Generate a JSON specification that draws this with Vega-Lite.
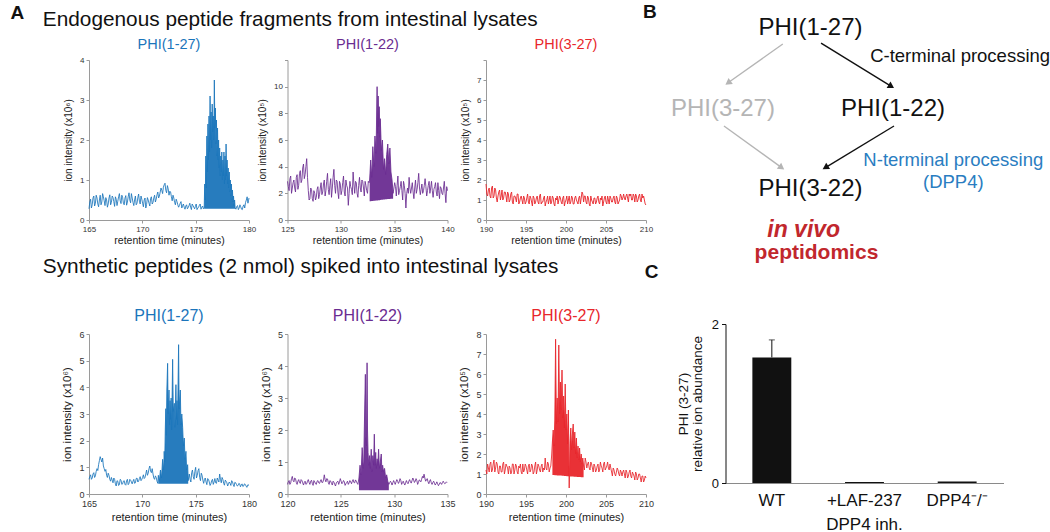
{
"$schema": "https://vega.github.io/schema/vega-lite/v6.json",
"padding": {"left": 10, "top": 2, "right": 0, "bottom": 4},
"columns": 4,
"bounds": "flush",
"spacing": {"row": 114, "column": 38.5},
"config": {
  "font": "Liberation Sans",
  "view": {"stroke": null},
  "axis": {"grid": false, "labelFont": "Liberation Sans", "titleFont": "Liberation Sans", "labelColor": "#333333", "titleColor": "#222222", "titleFontWeight": "normal", "domainColor": "#9a9a9a", "tickColor": "#9a9a9a", "tickSize": 3, "labelPadding": 2, "labelFlush": false, "labelOverlap": false},
  "title": {"font": "Liberation Sans", "fontWeight": "normal"},
  "text": {"font": "Liberation Sans"}
},
"datasets": {
"p1": [{"t":165.00,"v":0.28},{"t":165.15,"v":0.52},{"t":165.30,"v":0.38},{"t":165.45,"v":0.60},{"t":165.60,"v":0.42},{"t":165.75,"v":0.55},{"t":165.90,"v":0.33},{"t":166.05,"v":0.62},{"t":166.20,"v":0.45},{"t":166.35,"v":0.58},{"t":166.50,"v":0.36},{"t":166.65,"v":0.50},{"t":166.80,"v":0.40},{"t":166.95,"v":0.63},{"t":167.10,"v":0.44},{"t":167.25,"v":0.56},{"t":167.40,"v":0.34},{"t":167.55,"v":0.52},{"t":167.70,"v":0.47},{"t":167.85,"v":0.66},{"t":168.00,"v":0.41},{"t":168.15,"v":0.57},{"t":168.30,"v":0.38},{"t":168.45,"v":0.61},{"t":168.60,"v":0.45},{"t":168.75,"v":0.68},{"t":168.90,"v":0.43},{"t":169.05,"v":0.55},{"t":169.20,"v":0.36},{"t":169.35,"v":0.60},{"t":169.50,"v":0.42},{"t":169.65,"v":0.65},{"t":169.80,"v":0.40},{"t":169.95,"v":0.52},{"t":170.10,"v":0.33},{"t":170.25,"v":0.55},{"t":170.40,"v":0.39},{"t":170.55,"v":0.50},{"t":170.70,"v":0.35},{"t":170.85,"v":0.58},{"t":171.00,"v":0.44},{"t":171.15,"v":0.62},{"t":171.30,"v":0.52},{"t":171.45,"v":0.70},{"t":171.60,"v":0.60},{"t":171.75,"v":0.80},{"t":171.90,"v":0.66},{"t":172.05,"v":0.88},{"t":172.20,"v":0.74},{"t":172.35,"v":0.86},{"t":172.50,"v":0.62},{"t":172.65,"v":0.70},{"t":172.80,"v":0.48},{"t":172.95,"v":0.55},{"t":173.10,"v":0.38},{"t":173.25,"v":0.46},{"t":173.40,"v":0.32},{"t":173.55,"v":0.42},{"t":173.70,"v":0.30},{"t":173.85,"v":0.40},{"t":174.00,"v":0.27},{"t":174.15,"v":0.38},{"t":174.30,"v":0.31},{"t":174.45,"v":0.42},{"t":174.60,"v":0.26},{"t":174.75,"v":0.36},{"t":174.90,"v":0.28},{"t":175.05,"v":0.40},{"t":175.20,"v":0.30},{"t":175.35,"v":0.37},{"t":175.50,"v":0.27},{"t":175.65,"v":0.35},
{"t":175.80,"v":0.30,"lo":0.28},{"t":175.85,"v":0.9,"lo":0.28},{"t":175.90,"v":0.5,"lo":0.28},{"t":175.95,"v":1.6,"lo":0.28},{"t":176.00,"v":0.8,"lo":0.28},{"t":176.05,"v":2.1,"lo":0.28},{"t":176.10,"v":1.2,"lo":0.28},{"t":176.15,"v":2.4,"lo":0.28},{"t":176.20,"v":1.5,"lo":0.28},{"t":176.25,"v":2.6,"lo":0.28},{"t":176.30,"v":1.7,"lo":0.28},{"t":176.35,"v":3.1,"lo":0.28},{"t":176.40,"v":2.0,"lo":0.28},{"t":176.45,"v":2.7,"lo":0.28},{"t":176.50,"v":1.8,"lo":0.28},{"t":176.55,"v":2.9,"lo":0.28},{"t":176.60,"v":2.2,"lo":0.28},{"t":176.65,"v":2.6,"lo":0.28},{"t":176.70,"v":2.0,"lo":0.28},{"t":176.75,"v":3.5,"lo":0.28},{"t":176.80,"v":2.3,"lo":0.28},{"t":176.85,"v":2.8,"lo":0.28},{"t":176.90,"v":1.9,"lo":0.28},{"t":176.95,"v":2.5,"lo":0.28},{"t":177.00,"v":1.6,"lo":0.28},{"t":177.05,"v":2.3,"lo":0.28},{"t":177.10,"v":1.5,"lo":0.28},{"t":177.15,"v":2.0,"lo":0.28},{"t":177.20,"v":1.3,"lo":0.28},{"t":177.25,"v":1.8,"lo":0.28},{"t":177.30,"v":1.1,"lo":0.28},{"t":177.35,"v":1.6,"lo":0.28},{"t":177.40,"v":1.2,"lo":0.28},{"t":177.45,"v":1.7,"lo":0.28},{"t":177.50,"v":1.0,"lo":0.28},{"t":177.55,"v":1.5,"lo":0.28},{"t":177.60,"v":1.1,"lo":0.28},{"t":177.65,"v":1.7,"lo":0.28},{"t":177.70,"v":0.9,"lo":0.28},{"t":177.75,"v":1.6,"lo":0.28},{"t":177.80,"v":1.0,"lo":0.28},{"t":177.85,"v":1.9,"lo":0.28},{"t":177.90,"v":1.1,"lo":0.28},{"t":177.95,"v":1.5,"lo":0.28},{"t":178.00,"v":0.9,"lo":0.28},{"t":178.05,"v":1.3,"lo":0.28},{"t":178.10,"v":0.8,"lo":0.28},{"t":178.15,"v":1.2,"lo":0.28},{"t":178.20,"v":0.7,"lo":0.28},{"t":178.25,"v":1.0,"lo":0.28},{"t":178.30,"v":0.6,"lo":0.28},{"t":178.35,"v":0.9,"lo":0.28},{"t":178.40,"v":0.5,"lo":0.28},{"t":178.45,"v":0.75,"lo":0.28},{"t":178.50,"v":0.45,"lo":0.28},{"t":178.55,"v":0.6,"lo":0.28},{"t":178.60,"v":0.35,"lo":0.28},{"t":178.65,"v":0.5,"lo":0.28},{"t":178.70,"v":0.3,"lo":0.28},
{"t":178.85,"v":0.34},{"t":179.00,"v":0.26},{"t":179.15,"v":0.38},{"t":179.30,"v":0.27},{"t":179.45,"v":0.35},{"t":179.60,"v":0.30},{"t":179.75,"v":0.50},{"t":179.90,"v":0.42},{"t":180.00,"v":0.55},
{"t":165.075,"v":0.45},{"t":165.225,"v":0.30},{"t":165.375,"v":0.55},{"t":165.525,"v":0.35},{"t":165.675,"v":0.62},{"t":165.825,"v":0.40},{"t":165.975,"v":0.50},{"t":166.125,"v":0.38},{"t":166.275,"v":0.66},{"t":166.425,"v":0.48},{"t":166.575,"v":0.56},{"t":166.725,"v":0.32},{"t":166.875,"v":0.55},{"t":167.025,"v":0.38},{"t":167.175,"v":0.60},{"t":167.325,"v":0.46},{"t":167.475,"v":0.58},{"t":167.625,"v":0.36},{"t":167.775,"v":0.58},{"t":167.925,"v":0.48},{"t":168.075,"v":0.62},{"t":168.225,"v":0.42},{"t":168.375,"v":0.55},{"t":168.525,"v":0.37},{"t":168.675,"v":0.58},{"t":168.825,"v":0.50},{"t":168.975,"v":0.66},{"t":169.125,"v":0.44},{"t":169.275,"v":0.50},{"t":169.425,"v":0.38},{"t":169.575,"v":0.55},{"t":169.725,"v":0.47},{"t":169.875,"v":0.60},{"t":170.025,"v":0.42},{"t":170.175,"v":0.50},{"t":170.325,"v":0.30},{"t":170.475,"v":0.56},{"t":170.625,"v":0.42},{"t":170.775,"v":0.54},{"t":170.925,"v":0.40},{"t":171.075,"v":0.55},{"t":171.225,"v":0.45},{"t":171.375,"v":0.63},{"t":171.525,"v":0.55},{"t":171.675,"v":0.70},{"t":171.825,"v":0.74},{"t":171.975,"v":0.82},{"t":172.125,"v":0.92},{"t":172.275,"v":0.68},{"t":172.425,"v":0.78},{"t":172.575,"v":0.72},{"t":172.725,"v":0.58},{"t":172.875,"v":0.62},{"t":173.025,"v":0.44},{"t":173.175,"v":0.52},{"t":173.325,"v":0.38},{"t":173.475,"v":0.36},{"t":173.625,"v":0.46},{"t":173.775,"v":0.36},{"t":173.925,"v":0.32},{"t":174.075,"v":0.35},{"t":174.225,"v":0.28},{"t":174.375,"v":0.36},{"t":174.525,"v":0.32},{"t":174.675,"v":0.40},{"t":174.825,"v":0.32},{"t":174.975,"v":0.34},{"t":175.125,"v":0.26},{"t":175.275,"v":0.32},{"t":175.425,"v":0.40},{"t":175.575,"v":0.32},{"t":175.725,"v":0.28},{"t":178.775,"v":0.27},{"t":178.925,"v":0.36},{"t":179.075,"v":0.30},{"t":179.225,"v":0.33},{"t":179.375,"v":0.26},{"t":179.525,"v":0.38},{"t":179.675,"v":0.44},{"t":179.825,"v":0.58},{"t":179.95,"v":0.48}],
"p2": [{"t":125.00,"v":2.9},{"t":125.15,"v":2.2},{"t":125.30,"v":3.3},{"t":125.45,"v":2.4},{"t":125.60,"v":3.0},{"t":125.75,"v":2.1},{"t":125.90,"v":3.4},{"t":126.05,"v":2.6},{"t":126.20,"v":3.7},{"t":126.35,"v":3.0},{"t":126.50,"v":4.2},{"t":126.65,"v":3.4},{"t":126.80,"v":4.6},{"t":126.95,"v":2.2},{"t":127.10,"v":1.6},{"t":127.25,"v":2.3},{"t":127.40,"v":1.4},{"t":127.55,"v":2.0},{"t":127.70,"v":1.7},{"t":127.85,"v":2.5},{"t":128.00,"v":1.9},{"t":128.15,"v":2.8},{"t":128.30,"v":2.1},{"t":128.45,"v":3.0},{"t":128.60,"v":2.2},{"t":128.75,"v":3.5},{"t":128.90,"v":1.9},{"t":129.05,"v":3.1},{"t":129.20,"v":2.4},{"t":129.35,"v":3.8},{"t":129.50,"v":2.0},{"t":129.65,"v":2.9},{"t":129.80,"v":1.6},{"t":129.95,"v":2.7},{"t":130.10,"v":2.2},{"t":130.25,"v":3.3},{"t":130.40,"v":1.8},{"t":130.55,"v":2.6},{"t":130.70,"v":1.1},{"t":130.85,"v":2.9},{"t":131.00,"v":2.3},{"t":131.15,"v":3.6},{"t":131.30,"v":2.0},{"t":131.45,"v":2.8},{"t":131.60,"v":1.7},{"t":131.75,"v":3.2},{"t":131.90,"v":2.1},{"t":132.05,"v":2.9},{"t":132.20,"v":1.8},{"t":132.35,"v":2.6},{"t":132.50,"v":2.0},{"t":132.65,"v":2.8},
{"t":132.70,"v":3.0,"lo":1.40},{"t":132.80,"v":4.5,"lo":1.41},{"t":132.90,"v":3.2,"lo":1.42},{"t":133.00,"v":5.5,"lo":1.43},{"t":133.10,"v":4.0,"lo":1.44},{"t":133.20,"v":6.3,"lo":1.45},{"t":133.30,"v":5.0,"lo":1.46},{"t":133.40,"v":10.0,"lo":1.47},{"t":133.45,"v":6.5,"lo":1.47},{"t":133.50,"v":9.3,"lo":1.48},{"t":133.55,"v":7.0,"lo":1.48},{"t":133.60,"v":8.5,"lo":1.49},{"t":133.65,"v":6.2,"lo":1.49},{"t":133.70,"v":7.6,"lo":1.50},{"t":133.80,"v":5.2,"lo":1.51},{"t":133.90,"v":6.0,"lo":1.52},{"t":134.00,"v":3.8,"lo":1.53},{"t":134.10,"v":4.6,"lo":1.54},{"t":134.20,"v":3.4,"lo":1.55},{"t":134.30,"v":4.9,"lo":1.56},{"t":134.40,"v":5.7,"lo":1.57},{"t":134.50,"v":4.2,"lo":1.58},{"t":134.60,"v":5.4,"lo":1.58},{"t":134.70,"v":3.6,"lo":1.59},{"t":134.80,"v":3.0,"lo":1.60},{"t":134.90,"v":2.0,"lo":1.60},
{"t":135.05,"v":2.8},{"t":135.20,"v":1.8},{"t":135.35,"v":3.3},{"t":135.50,"v":2.2},{"t":135.65,"v":2.9},{"t":135.80,"v":1.5},{"t":135.95,"v":2.6},{"t":136.10,"v":0.9},{"t":136.25,"v":2.4},{"t":136.40,"v":3.2},{"t":136.55,"v":2.0},{"t":136.70,"v":2.8},{"t":136.85,"v":1.6},{"t":137.00,"v":3.0},{"t":137.15,"v":2.3},{"t":137.30,"v":3.5},{"t":137.45,"v":1.9},{"t":137.60,"v":2.7},{"t":137.75,"v":2.2},{"t":137.90,"v":3.1},{"t":138.05,"v":1.8},{"t":138.20,"v":2.6},{"t":138.35,"v":2.0},{"t":138.50,"v":2.9},{"t":138.65,"v":1.7},{"t":138.80,"v":2.5},{"t":138.95,"v":2.1},{"t":139.10,"v":2.8},{"t":139.25,"v":1.6},{"t":139.40,"v":2.4},{"t":139.55,"v":1.9},{"t":139.70,"v":2.9},{"t":139.85,"v":1.3},{"t":140.00,"v":2.2},
{"t":125.075,"v":2.5},{"t":125.225,"v":3.1},{"t":125.375,"v":2.0},{"t":125.525,"v":2.8},{"t":125.675,"v":2.4},{"t":125.825,"v":3.2},{"t":125.975,"v":2.3},{"t":126.125,"v":3.5},{"t":126.275,"v":2.8},{"t":126.425,"v":3.9},{"t":126.575,"v":3.1},{"t":126.725,"v":4.0},{"t":126.875,"v":3.2},{"t":127.025,"v":1.5},{"t":127.175,"v":2.4},{"t":127.325,"v":1.6},{"t":127.475,"v":2.2},{"t":127.625,"v":1.5},{"t":127.775,"v":2.3},{"t":127.925,"v":1.6},{"t":128.075,"v":2.4},{"t":128.225,"v":1.9},{"t":128.375,"v":2.7},{"t":128.525,"v":1.8},{"t":128.675,"v":2.9},{"t":128.825,"v":2.3},{"t":128.975,"v":2.6},{"t":129.125,"v":1.7},{"t":129.275,"v":3.2},{"t":129.425,"v":2.6},{"t":129.575,"v":3.0},{"t":129.725,"v":2.1},{"t":129.875,"v":2.9},{"t":130.025,"v":1.9},{"t":130.175,"v":2.8},{"t":130.325,"v":2.1},{"t":130.475,"v":3.0},{"t":130.625,"v":2.4},{"t":130.775,"v":2.0},{"t":130.925,"v":2.5},{"t":131.075,"v":1.9},{"t":131.225,"v":2.7},{"t":131.375,"v":2.9},{"t":131.525,"v":2.0},{"t":131.675,"v":2.6},{"t":131.825,"v":2.4},{"t":131.975,"v":3.0},{"t":132.125,"v":2.4},{"t":132.275,"v":2.9},{"t":132.425,"v":2.2},{"t":132.575,"v":2.9},{"t":134.975,"v":2.4},{"t":135.125,"v":2.5},{"t":135.275,"v":2.6},{"t":135.425,"v":1.9},{"t":135.575,"v":2.5},{"t":135.725,"v":2.2},{"t":135.875,"v":2.9},{"t":136.025,"v":2.0},{"t":136.175,"v":2.0},{"t":136.325,"v":2.0},{"t":136.475,"v":2.4},{"t":136.625,"v":2.4},{"t":136.775,"v":2.1},{"t":136.925,"v":2.4},{"t":137.075,"v":2.0},{"t":137.225,"v":2.8},{"t":137.375,"v":2.4},{"t":137.525,"v":2.3},{"t":137.675,"v":2.0},{"t":137.825,"v":2.6},{"t":137.975,"v":2.5},{"t":138.125,"v":2.2},{"t":138.275,"v":2.9},{"t":138.425,"v":2.4},{"t":138.575,"v":2.2},{"t":138.725,"v":2.3},{"t":138.875,"v":2.8},{"t":139.025,"v":1.8},{"t":139.175,"v":2.2},{"t":139.325,"v":2.5},{"t":139.475,"v":2.0},{"t":139.625,"v":2.4},{"t":139.775,"v":2.0},{"t":139.925,"v":2.5}],
"p3": [{"t":190.0,"v":1.8},{"t":190.2,"v":1.2},{"t":190.4,"v":1.6},{"t":190.6,"v":1.1},{"t":190.8,"v":1.7},{"t":191.0,"v":1.2},{"t":191.2,"v":1.5},{"t":191.4,"v":0.9},{"t":191.6,"v":1.4},{"t":191.8,"v":1.0},{"t":192.0,"v":1.5},{"t":192.2,"v":1.1},{"t":192.4,"v":1.4},{"t":192.6,"v":0.9},{"t":192.8,"v":1.3},{"t":193.0,"v":1.0},{"t":193.2,"v":1.4},{"t":193.4,"v":0.8},{"t":193.6,"v":1.2},{"t":193.8,"v":0.9},{"t":194.0,"v":1.3},{"t":194.2,"v":0.9},{"t":194.4,"v":1.2},{"t":194.6,"v":0.8},{"t":194.8,"v":1.1},{"t":195.0,"v":0.9},{"t":195.2,"v":1.3},{"t":195.4,"v":0.8},{"t":195.6,"v":1.1},{"t":195.8,"v":0.7},{"t":196.0,"v":1.1},{"t":196.2,"v":0.9},{"t":196.4,"v":1.2},{"t":196.6,"v":0.8},{"t":196.8,"v":1.3},{"t":197.0,"v":0.9},{"t":197.2,"v":1.1},{"t":197.4,"v":0.7},{"t":197.6,"v":1.0},{"t":197.8,"v":0.8},{"t":198.0,"v":1.2},{"t":198.2,"v":0.9},{"t":198.4,"v":1.1},{"t":198.6,"v":0.7},{"t":198.8,"v":1.0},{"t":199.0,"v":0.8},{"t":199.2,"v":1.2},{"t":199.4,"v":0.9},{"t":199.6,"v":1.1},{"t":199.8,"v":0.7},{"t":200.0,"v":1.0},{"t":200.2,"v":0.8},{"t":200.4,"v":1.2},{"t":200.6,"v":0.9},{"t":200.8,"v":1.1},{"t":201.0,"v":0.8},{"t":201.2,"v":1.2},{"t":201.4,"v":0.9},{"t":201.6,"v":1.1},{"t":201.8,"v":0.8},{"t":202.0,"v":1.4},{"t":202.2,"v":0.9},{"t":202.4,"v":1.2},{"t":202.6,"v":0.8},{"t":202.8,"v":1.1},{"t":203.0,"v":0.7},{"t":203.2,"v":1.0},{"t":203.4,"v":0.8},{"t":203.6,"v":1.1},{"t":203.8,"v":0.9},{"t":204.0,"v":1.2},{"t":204.2,"v":0.8},{"t":204.4,"v":1.0},{"t":204.6,"v":0.7},{"t":204.8,"v":1.1},{"t":205.0,"v":0.9},{"t":205.2,"v":1.2},{"t":205.4,"v":0.8},{"t":205.6,"v":1.1},{"t":205.8,"v":0.9},{"t":206.0,"v":1.2},{"t":206.2,"v":0.8},{"t":206.4,"v":1.1},{"t":206.6,"v":0.9},{"t":206.8,"v":1.3},{"t":207.0,"v":1.0},{"t":207.2,"v":1.3},{"t":207.4,"v":1.0},{"t":207.6,"v":1.3},{"t":207.8,"v":0.9},{"t":208.0,"v":1.2},{"t":208.2,"v":1.0},{"t":208.4,"v":1.3},{"t":208.6,"v":0.9},{"t":208.8,"v":1.2},{"t":209.0,"v":1.0},{"t":209.2,"v":1.3},{"t":209.4,"v":0.9},{"t":209.6,"v":1.1},{"t":209.8,"v":1.0},{"t":210.0,"v":0.75},
{"t":190.1,"v":1.3},{"t":190.3,"v":1.5},{"t":190.5,"v":1.2},{"t":190.7,"v":1.6},{"t":190.9,"v":1.1},{"t":191.1,"v":1.6},{"t":191.3,"v":1.1},{"t":191.5,"v":1.2},{"t":191.7,"v":1.5},{"t":191.9,"v":1.2},{"t":192.1,"v":1.0},{"t":192.3,"v":1.4},{"t":192.5,"v":1.2},{"t":192.7,"v":1.4},{"t":192.9,"v":0.9},{"t":193.1,"v":1.3},{"t":193.3,"v":0.9},{"t":193.5,"v":1.2},{"t":193.7,"v":1.1},{"t":193.9,"v":1.3},{"t":194.1,"v":0.8},{"t":194.3,"v":1.1},{"t":194.5,"v":1.0},{"t":194.7,"v":1.2},{"t":194.9,"v":0.8},{"t":195.1,"v":1.1},{"t":195.3,"v":0.9},{"t":195.5,"v":1.2},{"t":195.7,"v":0.9},{"t":195.9,"v":1.2},{"t":196.1,"v":0.8},{"t":196.3,"v":1.1},{"t":196.5,"v":0.9},{"t":196.7,"v":1.2},{"t":196.9,"v":0.8},{"t":197.1,"v":0.9},{"t":197.3,"v":1.2},{"t":197.5,"v":0.9},{"t":197.7,"v":1.2},{"t":197.9,"v":1.0},{"t":198.1,"v":0.8},{"t":198.3,"v":1.2},{"t":198.5,"v":0.8},{"t":198.7,"v":1.1},{"t":198.9,"v":1.2},{"t":199.1,"v":1.0},{"t":199.3,"v":1.1},{"t":199.5,"v":0.8},{"t":199.7,"v":1.2},{"t":199.9,"v":0.9},{"t":200.1,"v":1.2},{"t":200.3,"v":1.0},{"t":200.5,"v":0.8},{"t":200.7,"v":1.2},{"t":200.9,"v":0.8},{"t":201.1,"v":1.1},{"t":201.3,"v":1.0},{"t":201.5,"v":0.8},{"t":201.7,"v":1.2},{"t":201.9,"v":1.1},{"t":202.1,"v":1.3},{"t":202.3,"v":1.2},{"t":202.5,"v":0.9},{"t":202.7,"v":1.2},{"t":202.9,"v":0.8},{"t":203.1,"v":1.2},{"t":203.3,"v":0.9},{"t":203.5,"v":1.1},{"t":203.7,"v":0.8},{"t":203.9,"v":1.1},{"t":204.1,"v":0.9},{"t":204.3,"v":1.1},{"t":204.5,"v":1.2},{"t":204.7,"v":0.9},{"t":204.9,"v":1.2},{"t":205.1,"v":0.8},{"t":205.3,"v":1.0},{"t":205.5,"v":1.2},{"t":205.7,"v":0.9},{"t":205.9,"v":1.1},{"t":206.1,"v":0.9},{"t":206.3,"v":1.2},{"t":206.5,"v":0.8},{"t":206.7,"v":1.0},{"t":206.9,"v":1.2},{"t":207.1,"v":1.1},{"t":207.3,"v":1.1},{"t":207.5,"v":1.2},{"t":207.7,"v":1.1},{"t":207.9,"v":1.3},{"t":208.1,"v":1.3},{"t":208.3,"v":1.0},{"t":208.5,"v":1.2},{"t":208.7,"v":1.3},{"t":208.9,"v":0.9},{"t":209.1,"v":1.2},{"t":209.3,"v":1.0},{"t":209.5,"v":1.3},{"t":209.7,"v":1.2},{"t":209.9,"v":0.8}],
"p4": [{"t":165.00,"v":0.55},{"t":165.15,"v":0.72},{"t":165.30,"v":0.60},{"t":165.45,"v":0.80},{"t":165.60,"v":0.68},{"t":165.75,"v":0.95},{"t":165.90,"v":1.10},{"t":166.05,"v":1.40},{"t":166.20,"v":1.20},{"t":166.35,"v":1.05},{"t":166.50,"v":0.85},{"t":166.65,"v":0.70},{"t":166.80,"v":0.78},{"t":166.95,"v":0.55},{"t":167.10,"v":0.62},{"t":167.25,"v":0.42},{"t":167.40,"v":0.55},{"t":167.55,"v":0.30},{"t":167.70,"v":0.48},{"t":167.85,"v":0.35},{"t":168.00,"v":0.52},{"t":168.15,"v":0.38},{"t":168.30,"v":0.50},{"t":168.45,"v":0.33},{"t":168.60,"v":0.55},{"t":168.75,"v":0.40},{"t":168.90,"v":0.52},{"t":169.05,"v":0.38},{"t":169.20,"v":0.55},{"t":169.35,"v":0.42},{"t":169.50,"v":0.60},{"t":169.65,"v":0.48},{"t":169.80,"v":0.65},{"t":169.95,"v":0.55},{"t":170.10,"v":0.72},{"t":170.25,"v":0.62},{"t":170.40,"v":0.90},{"t":170.55,"v":0.78},{"t":170.70,"v":1.05},{"t":170.85,"v":0.80},{"t":171.00,"v":0.75},{"t":171.15,"v":0.55},{"t":171.30,"v":0.62},{"t":171.45,"v":0.40},
{"t":171.50,"v":0.7,"lo":0.38},{"t":171.60,"v":0.5,"lo":0.38},{"t":171.70,"v":0.9,"lo":0.38},{"t":171.80,"v":0.6,"lo":0.38},{"t":171.90,"v":1.3,"lo":0.38},{"t":172.00,"v":0.9,"lo":0.38},{"t":172.05,"v":1.6,"lo":0.38},{"t":172.10,"v":1.2,"lo":0.38},{"t":172.15,"v":2.4,"lo":0.38},{"t":172.20,"v":3.2,"lo":0.38},{"t":172.25,"v":2.2,"lo":0.38},{"t":172.30,"v":3.9,"lo":0.38},{"t":172.37,"v":4.9,"lo":0.38},{"t":172.42,"v":3.0,"lo":0.38},{"t":172.50,"v":3.9,"lo":0.38},{"t":172.55,"v":2.6,"lo":0.38},{"t":172.60,"v":3.5,"lo":0.38},{"t":172.65,"v":2.8,"lo":0.38},{"t":172.70,"v":3.6,"lo":0.38},{"t":172.75,"v":2.4,"lo":0.38},{"t":172.84,"v":5.05,"lo":0.38},{"t":172.90,"v":3.1,"lo":0.38},{"t":173.00,"v":3.4,"lo":0.38},{"t":173.05,"v":2.5,"lo":0.38},{"t":173.15,"v":4.1,"lo":0.38},{"t":173.20,"v":2.8,"lo":0.38},{"t":173.25,"v":3.5,"lo":0.38},{"t":173.30,"v":2.6,"lo":0.38},{"t":173.40,"v":5.6,"lo":0.38},{"t":173.45,"v":3.2,"lo":0.38},{"t":173.56,"v":3.9,"lo":0.38},{"t":173.62,"v":2.6,"lo":0.38},{"t":173.70,"v":3.0,"lo":0.38},{"t":173.78,"v":2.5,"lo":0.38},{"t":173.85,"v":1.8,"lo":0.38},{"t":173.93,"v":2.1,"lo":0.38},{"t":174.00,"v":1.3,"lo":0.38},{"t":174.09,"v":1.6,"lo":0.38},{"t":174.15,"v":0.9,"lo":0.38},{"t":174.25,"v":1.1,"lo":0.38},{"t":174.30,"v":0.5,"lo":0.38},
{"t":174.40,"v":0.75},{"t":174.55,"v":0.45},{"t":174.70,"v":0.90},{"t":174.85,"v":0.55},{"t":175.00,"v":1.00},{"t":175.15,"v":0.70},{"t":175.30,"v":0.95},{"t":175.45,"v":0.50},{"t":175.60,"v":0.70},{"t":175.75,"v":0.40},{"t":175.90,"v":0.60},{"t":176.05,"v":0.35},{"t":176.20,"v":0.55},{"t":176.35,"v":0.32},{"t":176.50,"v":0.50},{"t":176.65,"v":0.36},{"t":176.80,"v":0.58},{"t":176.95,"v":0.40},{"t":177.10,"v":0.52},{"t":177.25,"v":0.75},{"t":177.40,"v":0.42},{"t":177.55,"v":0.55},{"t":177.70,"v":0.33},{"t":177.85,"v":0.48},{"t":178.00,"v":0.30},{"t":178.15,"v":0.45},{"t":178.30,"v":0.32},{"t":178.45,"v":0.46},{"t":178.60,"v":0.28},{"t":178.75,"v":0.42},{"t":178.90,"v":0.30},{"t":179.05,"v":0.40},{"t":179.20,"v":0.27},{"t":179.35,"v":0.38},{"t":179.50,"v":0.30},{"t":179.65,"v":0.36},{"t":179.80,"v":0.25},{"t":180.00,"v":0.32},
{"t":165.075,"v":0.65},{"t":165.225,"v":0.55},{"t":165.375,"v":0.75},{"t":165.525,"v":0.62},{"t":165.675,"v":0.85},{"t":165.825,"v":0.88},{"t":165.975,"v":1.25},{"t":166.125,"v":1.30},{"t":166.275,"v":1.35},{"t":166.425,"v":0.95},{"t":166.575,"v":0.92},{"t":166.725,"v":0.62},{"t":166.875,"v":0.70},{"t":167.025,"v":0.48},{"t":167.175,"v":0.52},{"t":167.325,"v":0.60},{"t":167.475,"v":0.38},{"t":167.625,"v":0.50},{"t":167.775,"v":0.32},{"t":167.925,"v":0.55},{"t":168.075,"v":0.36},{"t":168.225,"v":0.48},{"t":168.375,"v":0.36},{"t":168.525,"v":0.50},{"t":168.675,"v":0.35},{"t":168.825,"v":0.55},{"t":168.975,"v":0.45},{"t":169.125,"v":0.48},{"t":169.275,"v":0.40},{"t":169.425,"v":0.58},{"t":169.575,"v":0.45},{"t":169.725,"v":0.58},{"t":169.875,"v":0.50},{"t":170.025,"v":0.62},{"t":170.175,"v":0.58},{"t":170.325,"v":0.75},{"t":170.475,"v":0.70},{"t":170.625,"v":0.95},{"t":170.775,"v":0.85},{"t":170.925,"v":0.95},{"t":171.075,"v":0.60},{"t":171.225,"v":0.68},{"t":171.375,"v":0.48},{"t":174.475,"v":0.55},{"t":174.625,"v":0.80},{"t":174.775,"v":0.65},{"t":174.925,"v":0.85},{"t":175.075,"v":0.60},{"t":175.225,"v":0.88},{"t":175.375,"v":0.62},{"t":175.525,"v":0.78},{"t":175.675,"v":0.52},{"t":175.825,"v":0.55},{"t":175.975,"v":0.45},{"t":176.125,"v":0.58},{"t":176.275,"v":0.45},{"t":176.425,"v":0.38},{"t":176.575,"v":0.55},{"t":176.725,"v":0.45},{"t":176.875,"v":0.42},{"t":177.025,"v":0.60},{"t":177.175,"v":0.45},{"t":177.325,"v":0.55},{"t":177.475,"v":0.62},{"t":177.625,"v":0.40},{"t":177.775,"v":0.52},{"t":177.925,"v":0.42},{"t":178.075,"v":0.38},{"t":178.225,"v":0.40},{"t":178.375,"v":0.50},{"t":178.525,"v":0.35},{"t":178.675,"v":0.44},{"t":178.825,"v":0.36},{"t":178.975,"v":0.32},{"t":179.125,"v":0.38},{"t":179.275,"v":0.34},{"t":179.425,"v":0.28},{"t":179.575,"v":0.38},{"t":179.725,"v":0.30},{"t":179.9,"v":0.35}],
"p5": [{"t":120.00,"v":0.30},{"t":120.15,"v":0.42},{"t":120.30,"v":0.35},{"t":120.45,"v":0.55},{"t":120.60,"v":0.38},{"t":120.75,"v":0.48},{"t":120.90,"v":0.30},{"t":121.05,"v":0.45},{"t":121.20,"v":0.33},{"t":121.35,"v":0.42},{"t":121.50,"v":0.28},{"t":121.65,"v":0.40},{"t":121.80,"v":0.32},{"t":121.95,"v":0.45},{"t":122.10,"v":0.30},{"t":122.25,"v":0.43},{"t":122.40,"v":0.27},{"t":122.55,"v":0.38},{"t":122.70,"v":0.30},{"t":122.85,"v":0.42},{"t":123.00,"v":0.33},{"t":123.15,"v":0.45},{"t":123.30,"v":0.36},{"t":123.45,"v":0.60},{"t":123.60,"v":0.38},{"t":123.75,"v":0.47},{"t":123.90,"v":0.30},{"t":124.05,"v":0.40},{"t":124.20,"v":0.28},{"t":124.35,"v":0.37},{"t":124.50,"v":0.25},{"t":124.65,"v":0.38},{"t":124.80,"v":0.30},{"t":124.95,"v":0.48},{"t":125.10,"v":0.32},{"t":125.25,"v":0.42},{"t":125.40,"v":0.27},{"t":125.55,"v":0.36},{"t":125.70,"v":0.30},{"t":125.85,"v":0.42},{"t":126.00,"v":0.32},{"t":126.15,"v":0.45},{"t":126.30,"v":0.35},{"t":126.45,"v":0.40},{"t":126.60,"v":0.30},
{"t":126.70,"v":0.5,"lo":0.12},{"t":126.80,"v":0.9,"lo":0.12},{"t":126.90,"v":0.6,"lo":0.12},{"t":127.00,"v":1.45,"lo":0.12},{"t":127.10,"v":0.8,"lo":0.12},{"t":127.15,"v":1.0,"lo":0.12},{"t":127.20,"v":2.0,"lo":0.12},{"t":127.30,"v":3.74,"lo":0.12},{"t":127.35,"v":1.8,"lo":0.12},{"t":127.40,"v":1.5,"lo":0.12},{"t":127.46,"v":4.1,"lo":0.12},{"t":127.50,"v":2.0,"lo":0.12},{"t":127.55,"v":1.3,"lo":0.12},{"t":127.62,"v":0.9,"lo":0.12},{"t":127.70,"v":1.2,"lo":0.12},{"t":127.76,"v":0.8,"lo":0.12},{"t":127.85,"v":1.4,"lo":0.12},{"t":127.92,"v":0.7,"lo":0.12},{"t":128.00,"v":1.2,"lo":0.12},{"t":128.07,"v":0.9,"lo":0.12},{"t":128.14,"v":1.87,"lo":0.12},{"t":128.20,"v":0.9,"lo":0.12},{"t":128.27,"v":1.3,"lo":0.12},{"t":128.33,"v":0.8,"lo":0.12},{"t":128.40,"v":1.1,"lo":0.12},{"t":128.47,"v":0.9,"lo":0.12},{"t":128.54,"v":1.4,"lo":0.12},{"t":128.62,"v":0.8,"lo":0.12},{"t":128.70,"v":1.0,"lo":0.12},{"t":128.79,"v":1.25,"lo":0.12},{"t":128.85,"v":0.7,"lo":0.12},{"t":128.92,"v":0.9,"lo":0.12},{"t":129.00,"v":0.7,"lo":0.12},{"t":129.10,"v":0.8,"lo":0.12},{"t":129.20,"v":0.5,"lo":0.12},{"t":129.30,"v":0.6,"lo":0.12},{"t":129.40,"v":0.4,"lo":0.12},{"t":129.50,"v":0.3,"lo":0.12},
{"t":129.65,"v":0.40},{"t":129.80,"v":0.28},{"t":129.95,"v":0.42},{"t":130.10,"v":0.30},{"t":130.25,"v":0.45},{"t":130.40,"v":0.33},{"t":130.55,"v":0.48},{"t":130.70,"v":0.30},{"t":130.85,"v":0.40},{"t":131.00,"v":0.28},{"t":131.15,"v":0.42},{"t":131.30,"v":0.32},{"t":131.45,"v":0.45},{"t":131.60,"v":0.34},{"t":131.75,"v":0.50},{"t":131.90,"v":0.36},{"t":132.05,"v":0.48},{"t":132.20,"v":0.30},{"t":132.35,"v":0.44},{"t":132.50,"v":0.38},{"t":132.65,"v":0.55},{"t":132.80,"v":0.62},{"t":132.95,"v":0.40},{"t":133.10,"v":0.48},{"t":133.25,"v":0.32},{"t":133.40,"v":0.45},{"t":133.55,"v":0.30},{"t":133.70,"v":0.40},{"t":133.85,"v":0.28},{"t":134.00,"v":0.38},{"t":134.15,"v":0.26},{"t":134.30,"v":0.36},{"t":134.45,"v":0.30},{"t":134.60,"v":0.40},{"t":134.75,"v":0.32},{"t":134.90,"v":0.38},
{"t":120.075,"v":0.38},{"t":120.225,"v":0.30},{"t":120.375,"v":0.48},{"t":120.525,"v":0.42},{"t":120.675,"v":0.50},{"t":120.825,"v":0.36},{"t":120.975,"v":0.40},{"t":121.125,"v":0.36},{"t":121.275,"v":0.45},{"t":121.425,"v":0.35},{"t":121.575,"v":0.36},{"t":121.725,"v":0.30},{"t":121.875,"v":0.40},{"t":122.025,"v":0.36},{"t":122.175,"v":0.40},{"t":122.325,"v":0.33},{"t":122.475,"v":0.42},{"t":122.625,"v":0.32},{"t":122.775,"v":0.40},{"t":122.925,"v":0.35},{"t":123.075,"v":0.40},{"t":123.225,"v":0.36},{"t":123.375,"v":0.44},{"t":123.525,"v":0.45},{"t":123.675,"v":0.48},{"t":123.825,"v":0.36},{"t":123.975,"v":0.42},{"t":124.125,"v":0.33},{"t":124.275,"v":0.40},{"t":124.425,"v":0.30},{"t":124.575,"v":0.35},{"t":124.725,"v":0.40},{"t":124.875,"v":0.38},{"t":125.025,"v":0.40},{"t":125.175,"v":0.36},{"t":125.325,"v":0.38},{"t":125.475,"v":0.32},{"t":125.625,"v":0.40},{"t":125.775,"v":0.35},{"t":125.925,"v":0.38},{"t":126.075,"v":0.40},{"t":126.225,"v":0.36},{"t":126.375,"v":0.44},{"t":126.525,"v":0.34},{"t":129.575,"v":0.35},{"t":129.725,"v":0.36},{"t":129.875,"v":0.35},{"t":130.025,"v":0.36},{"t":130.175,"v":0.38},{"t":130.325,"v":0.40},{"t":130.475,"v":0.38},{"t":130.625,"v":0.42},{"t":130.775,"v":0.36},{"t":130.925,"v":0.33},{"t":131.075,"v":0.36},{"t":131.225,"v":0.35},{"t":131.375,"v":0.40},{"t":131.525,"v":0.38},{"t":131.675,"v":0.42},{"t":131.825,"v":0.44},{"t":131.975,"v":0.40},{"t":132.125,"v":0.42},{"t":132.275,"v":0.36},{"t":132.425,"v":0.42},{"t":132.575,"v":0.46},{"t":132.725,"v":0.50},{"t":132.875,"v":0.50},{"t":133.025,"v":0.44},{"t":133.175,"v":0.38},{"t":133.325,"v":0.40},{"t":133.475,"v":0.36},{"t":133.625,"v":0.36},{"t":133.775,"v":0.34},{"t":133.925,"v":0.32},{"t":134.075,"v":0.32},{"t":134.225,"v":0.30},{"t":134.375,"v":0.34},{"t":134.525,"v":0.36},{"t":134.675,"v":0.35},{"t":134.825,"v":0.34},{"t":134.95,"v":0.36}],
"p6": [{"t":190.0,"v":1.2},{"t":190.2,"v":1.5},{"t":190.4,"v":1.1},{"t":190.6,"v":1.6},{"t":190.8,"v":1.2},{"t":191.0,"v":1.7},{"t":191.2,"v":1.3},{"t":191.4,"v":1.5},{"t":191.6,"v":1.0},{"t":191.8,"v":1.4},{"t":192.0,"v":1.1},{"t":192.2,"v":1.6},{"t":192.4,"v":1.2},{"t":192.6,"v":1.4},{"t":192.8,"v":1.0},{"t":193.0,"v":1.3},{"t":193.2,"v":1.1},{"t":193.4,"v":1.5},{"t":193.6,"v":1.2},{"t":193.8,"v":1.4},{"t":194.0,"v":1.0},{"t":194.2,"v":1.3},{"t":194.4,"v":1.1},{"t":194.6,"v":1.5},{"t":194.8,"v":1.2},{"t":195.0,"v":1.4},{"t":195.2,"v":1.0},{"t":195.4,"v":1.5},{"t":195.6,"v":1.2},{"t":195.8,"v":1.4},{"t":196.0,"v":1.1},{"t":196.2,"v":1.6},{"t":196.4,"v":1.2},{"t":196.6,"v":1.4},{"t":196.8,"v":1.1},{"t":197.0,"v":1.5},{"t":197.2,"v":1.3},{"t":197.4,"v":1.8},{"t":197.6,"v":1.2},{"t":197.8,"v":1.5},{"t":198.0,"v":1.3},{"t":198.2,"v":1.9},
{"t":198.3,"v":2.6,"lo":0.95},{"t":198.4,"v":3.2,"lo":0.95},{"t":198.5,"v":2.4,"lo":0.95},{"t":198.6,"v":3.7,"lo":0.94},{"t":198.7,"v":7.74,"lo":0.94},{"t":198.8,"v":3.5,"lo":0.94},{"t":198.9,"v":4.8,"lo":0.93},{"t":199.0,"v":3.6,"lo":0.93},{"t":199.1,"v":7.45,"lo":0.93},{"t":199.2,"v":4.0,"lo":0.92},{"t":199.3,"v":5.6,"lo":0.92},{"t":199.4,"v":4.2,"lo":0.92},{"t":199.5,"v":6.2,"lo":0.91},{"t":199.6,"v":3.8,"lo":0.91},{"t":199.7,"v":4.9,"lo":0.91},{"t":199.8,"v":3.3,"lo":0.90},{"t":199.9,"v":5.5,"lo":0.90},{"t":200.0,"v":3.2,"lo":0.90},{"t":200.1,"v":4.0,"lo":0.89},{"t":200.2,"v":2.5,"lo":0.89},{"t":200.3,"v":4.2,"lo":0.89},{"t":200.4,"v":0.3,"lo":0.88},{"t":200.5,"v":2.6,"lo":0.88},{"t":200.6,"v":3.3,"lo":0.88},{"t":200.7,"v":2.2,"lo":0.87},{"t":200.8,"v":3.0,"lo":0.87},{"t":200.9,"v":3.5,"lo":0.87},{"t":201.0,"v":2.3,"lo":0.86},{"t":201.1,"v":3.1,"lo":0.86},{"t":201.2,"v":2.0,"lo":0.86},{"t":201.3,"v":2.8,"lo":0.86},{"t":201.4,"v":1.8,"lo":0.85},{"t":201.5,"v":2.4,"lo":0.85},{"t":201.6,"v":1.7,"lo":0.85},{"t":201.7,"v":2.3,"lo":0.85},{"t":201.8,"v":1.6,"lo":0.85},{"t":201.9,"v":2.0,"lo":0.84},{"t":202.0,"v":1.5,"lo":0.84},{"t":202.1,"v":1.8,"lo":0.84},{"t":202.2,"v":1.4,"lo":0.84},
{"t":202.4,"v":1.8},{"t":202.6,"v":1.3},{"t":202.8,"v":1.6},{"t":203.0,"v":1.2},{"t":203.2,"v":1.5},{"t":203.4,"v":1.1},{"t":203.6,"v":1.4},{"t":203.8,"v":1.2},{"t":204.0,"v":1.5},{"t":204.2,"v":1.2},{"t":204.4,"v":1.4},{"t":204.6,"v":1.1},{"t":204.8,"v":1.6},{"t":205.0,"v":1.3},{"t":205.2,"v":1.6},{"t":205.4,"v":1.2},{"t":205.6,"v":1.3},{"t":205.8,"v":0.9},{"t":206.0,"v":1.2},{"t":206.2,"v":0.9},{"t":206.4,"v":1.3},{"t":206.6,"v":1.0},{"t":206.8,"v":1.2},{"t":207.0,"v":0.9},{"t":207.2,"v":1.2},{"t":207.4,"v":0.8},{"t":207.6,"v":1.1},{"t":207.8,"v":0.9},{"t":208.0,"v":1.2},{"t":208.2,"v":0.8},{"t":208.4,"v":1.0},{"t":208.6,"v":0.7},{"t":208.8,"v":1.0},{"t":209.0,"v":0.8},{"t":209.2,"v":1.0},{"t":209.4,"v":0.6},{"t":209.6,"v":0.9},{"t":209.8,"v":0.7},{"t":210.0,"v":0.8},
{"t":190.1,"v":1.0},{"t":190.3,"v":1.3},{"t":190.5,"v":1.5},{"t":190.7,"v":1.1},{"t":190.9,"v":1.5},{"t":191.1,"v":1.1},{"t":191.3,"v":1.6},{"t":191.5,"v":1.1},{"t":191.7,"v":1.4},{"t":191.9,"v":1.1},{"t":192.1,"v":1.5},{"t":192.3,"v":1.0},{"t":192.5,"v":1.5},{"t":192.7,"v":1.3},{"t":192.9,"v":1.4},{"t":193.1,"v":1.0},{"t":193.3,"v":1.5},{"t":193.5,"v":1.0},{"t":193.7,"v":1.5},{"t":193.9,"v":1.1},{"t":194.1,"v":1.4},{"t":194.3,"v":1.5},{"t":194.5,"v":1.0},{"t":194.7,"v":1.1},{"t":194.9,"v":1.5},{"t":195.1,"v":1.2},{"t":195.3,"v":1.4},{"t":195.5,"v":1.1},{"t":195.7,"v":1.5},{"t":195.9,"v":1.0},{"t":196.1,"v":1.4},{"t":196.3,"v":1.0},{"t":196.5,"v":1.5},{"t":196.7,"v":1.2},{"t":196.9,"v":1.4},{"t":197.1,"v":1.1},{"t":197.3,"v":1.2},{"t":197.5,"v":1.3},{"t":197.7,"v":1.6},{"t":197.9,"v":1.1},{"t":198.1,"v":1.4},{"t":202.3,"v":1.2},{"t":202.5,"v":1.6},{"t":202.7,"v":1.5},{"t":202.9,"v":1.3},{"t":203.1,"v":1.6},{"t":203.3,"v":1.3},{"t":203.5,"v":1.5},{"t":203.7,"v":1.1},{"t":203.9,"v":1.4},{"t":204.1,"v":1.1},{"t":204.3,"v":1.6},{"t":204.5,"v":1.3},{"t":204.7,"v":1.5},{"t":204.9,"v":1.2},{"t":205.1,"v":1.4},{"t":205.3,"v":1.3},{"t":205.5,"v":1.5},{"t":205.7,"v":1.1},{"t":205.9,"v":1.3},{"t":206.1,"v":1.0},{"t":206.3,"v":1.1},{"t":206.5,"v":1.2},{"t":206.7,"v":0.9},{"t":206.9,"v":1.1},{"t":207.1,"v":1.1},{"t":207.3,"v":1.0},{"t":207.5,"v":1.2},{"t":207.7,"v":0.8},{"t":207.9,"v":1.1},{"t":208.1,"v":0.9},{"t":208.3,"v":1.1},{"t":208.5,"v":0.9},{"t":208.7,"v":1.1},{"t":208.9,"v":0.7},{"t":209.1,"v":1.0},{"t":209.3,"v":0.8},{"t":209.5,"v":0.9},{"t":209.7,"v":0.6},{"t":209.9,"v":0.9}]
},
"concat": [
{
  "width": 160, "height": 160,
  "data": {"name": "p1"},
  "title": {"text": "PHI(1-27)", "color": "#1b75bb", "fontSize": 14.5, "offset": 4},
  "encoding": {
    "x": {"field": "t", "type": "quantitative", "scale": {"domain": [165, 180], "nice": false, "zero": false}, "axis": {"values": [165, 170, 175, 180], "title": "retention time (minutes)", "labelFontSize": 8, "titleFontSize": 10.5, "titlePadding": 2}},
    "y": {"field": "v", "type": "quantitative", "scale": {"domain": [0, 4], "nice": false}, "axis": {"values": [0, 1, 2, 3, 4], "title": "ion intensity (x10⁶)", "labelFontSize": 8, "titleFontSize": 10, "titlePadding": 6}}
  },
  "layer": [
    {"transform": [{"filter": "isValid(datum.lo)"}], "mark": {"type": "area", "color": "#1b75bb", "opacity": 0.95}, "encoding": {"y2": {"field": "lo"}}},
    {"mark": {"type": "line", "color": "#1b75bb", "strokeWidth": 1, "opacity": 0.85}}
  ]
},
{
  "width": 160, "height": 160,
  "data": {"name": "p2"},
  "title": {"text": "PHI(1-22)", "color": "#6a2c91", "fontSize": 14.5, "offset": 4},
  "encoding": {
    "x": {"field": "t", "type": "quantitative", "scale": {"domain": [125, 140], "nice": false, "zero": false}, "axis": {"values": [125, 130, 135, 140], "title": "retention time (minutes)", "labelFontSize": 8, "titleFontSize": 10.5, "titlePadding": 2}},
    "y": {"field": "v", "type": "quantitative", "scale": {"domain": [0, 12], "nice": false}, "axis": {"values": [0, 2, 4, 6, 8, 10, 12], "labelExpr": "datum.value == 12 ? '' : datum.label", "title": "ion intensity (x10⁵)", "labelFontSize": 8, "titleFontSize": 10, "titlePadding": 6}}
  },
  "layer": [
    {"transform": [{"filter": "isValid(datum.lo)"}], "mark": {"type": "area", "color": "#6a2c91", "opacity": 0.95}, "encoding": {"y2": {"field": "lo"}}},
    {"mark": {"type": "line", "color": "#6a2c91", "strokeWidth": 1, "opacity": 0.85}}
  ]
},
{
  "width": 201, "height": 160,
  "data": {"name": "p3"},
  "title": {"text": "PHI(3-27)", "color": "#e8262b", "fontSize": 14.5, "offset": 4, "dx": -20.5},
  "encoding": {
    "x": {"field": "t", "type": "quantitative", "scale": {"domain": [190, 210], "range": [0, 160], "nice": false, "zero": false}, "axis": {"values": [190, 195, 200, 205, 210], "title": "retention time (minutes)", "labelFontSize": 8, "titleFontSize": 10.5, "titlePadding": 2}},
    "y": {"field": "v", "type": "quantitative", "scale": {"domain": [0, 8], "nice": false}, "axis": {"values": [0, 1, 2, 3, 4, 5, 6, 7, 8], "labelExpr": "datum.value == 8 ? '' : datum.label", "title": "ion intensity (x10⁵)", "labelFontSize": 8, "titleFontSize": 10, "titlePadding": 6}}
  },
  "layer": [
    {"mark": {"type": "line", "color": "#e8262b", "strokeWidth": 1, "opacity": 0.9}}
  ]
},
{
  "width": 278, "height": 160,
  "layer": [
    {"data": {"values": [{"c1": 0.674, "r1": 0.2, "c2": 0.03, "r2": 0.685, "k": "minor"}, {"c1": 1.124, "r1": 0.19, "c2": 1.95, "r2": 0.73, "k": "main"}, {"c1": 1.982, "r1": 1.225, "c2": 1.175, "r2": 1.745, "k": "main"}, {"c1": -0.018, "r1": 1.225, "c2": 0.66, "r2": 1.745, "k": "minor"}]},
     "mark": {"type": "rule", "strokeWidth": 1.4},
     "encoding": {"x": {"field": "c1", "type": "quantitative", "scale": {"domain": [0, 3.27], "nice": false, "zero": false}, "axis": null}, "y": {"field": "r1", "type": "quantitative", "scale": {"domain": [0.4, 2.4], "nice": false, "zero": false, "reverse": true}, "axis": null}, "x2": {"field": "c2"}, "y2": {"field": "r2"}, "color": {"field": "k", "type": "nominal", "scale": {"domain": ["main", "minor", "blue", "red"], "range": ["#111111", "#b5b5b5", "#2a7dc1", "#c1272d"]}, "legend": null}}},
    {"data": {"values": [{"c1": 0.674, "r1": 0.2, "c2": 0.03, "r2": 0.685, "k": "minor"}, {"c1": 1.124, "r1": 0.19, "c2": 1.95, "r2": 0.73, "k": "main"}, {"c1": 1.982, "r1": 1.225, "c2": 1.175, "r2": 1.745, "k": "main"}, {"c1": -0.018, "r1": 1.225, "c2": 0.66, "r2": 1.745, "k": "minor"}]},
     "transform": [{"calculate": "atan2(85*(datum.c2-datum.c1), -80*(datum.r2-datum.r1))*180/PI", "as": "ang"}],
     "mark": {"type": "point", "shape": "triangle-up", "filled": true, "size": 55, "opacity": 1},
     "encoding": {"x": {"field": "c2", "type": "quantitative"}, "y": {"field": "r2", "type": "quantitative"}, "angle": {"field": "ang", "type": "quantitative", "scale": null}, "color": {"field": "k", "type": "nominal", "legend": null}}},
    {"data": {"values": [{"s": "PHI(1-27)", "c": 1.0, "r": 0.0, "k": "main"}, {"s": "PHI(3-27)", "c": -0.03, "r": 1.01, "k": "minor"}, {"s": "PHI(1-22)", "c": 1.97, "r": 1.01, "k": "main"}, {"s": "PHI(3-22)", "c": 1.0, "r": 2.01, "k": "main"}]},
     "mark": {"type": "text", "fontSize": 24, "align": "center", "baseline": "middle"},
     "encoding": {"x": {"field": "c", "type": "quantitative"}, "y": {"field": "r", "type": "quantitative"}, "text": {"field": "s"}, "color": {"field": "k", "type": "nominal", "legend": null}}},
    {"data": {"values": [{"s": "C-terminal processing", "c": 2.76, "r": 0.35, "k": "main"}, {"s": "N-terminal processing", "c": 2.68, "r": 1.65, "k": "blue"}, {"s": "(DPP4)", "c": 2.68, "r": 1.93, "k": "blue"}]},
     "mark": {"type": "text", "fontSize": 18.5, "align": "center", "baseline": "middle"},
     "encoding": {"x": {"field": "c", "type": "quantitative"}, "y": {"field": "r", "type": "quantitative"}, "text": {"field": "s"}, "color": {"field": "k", "type": "nominal", "legend": null}}},
    {"data": {"values": [{"s": "in vivo", "c": 0.92, "r": 2.53, "k": "red"}]},
     "mark": {"type": "text", "fontSize": 23, "fontWeight": "bold", "fontStyle": "italic", "align": "center", "baseline": "middle"},
     "encoding": {"x": {"field": "c", "type": "quantitative"}, "y": {"field": "r", "type": "quantitative"}, "text": {"field": "s"}, "color": {"field": "k", "type": "nominal", "legend": null}}},
    {"data": {"values": [{"s": "peptidomics", "c": 1.07, "r": 2.81, "k": "red"}]},
     "mark": {"type": "text", "fontSize": 21, "fontWeight": "bold", "align": "center", "baseline": "middle"},
     "encoding": {"x": {"field": "c", "type": "quantitative"}, "y": {"field": "r", "type": "quantitative"}, "text": {"field": "s"}, "color": {"field": "k", "type": "nominal", "legend": null}}},
    {"data": {"values": [{"s": "A", "c": -8.33, "r": -0.19, "k": "main"}, {"s": "B", "c": -0.89, "r": -0.2, "k": "main"}, {"s": "C", "c": -0.87, "r": 3.05, "k": "main"}]},
     "mark": {"type": "text", "fontSize": 19, "fontWeight": "bold", "align": "center", "baseline": "middle"},
     "encoding": {"x": {"field": "c", "type": "quantitative"}, "y": {"field": "r", "type": "quantitative"}, "text": {"field": "s"}, "color": {"field": "k", "type": "nominal", "legend": null}}},
    {"data": {"values": [{"s": "Endogenous peptide fragments from intestinal lysates", "c": -8.03, "r": -0.025, "k": "main"}, {"s": "Synthetic peptides (2 nmol) spiked into intestinal lysates", "c": -8.03, "r": 3.06, "k": "main"}]},
     "mark": {"type": "text", "fontSize": 20.8, "align": "left", "baseline": "alphabetic"},
     "encoding": {"x": {"field": "c", "type": "quantitative"}, "y": {"field": "r", "type": "quantitative"}, "text": {"field": "s"}, "color": {"field": "k", "type": "nominal", "legend": null}}}
  ]
},
{
  "width": 160, "height": 160,
  "data": {"name": "p4"},
  "title": {"text": "PHI(1-27)", "color": "#1b75bb", "fontSize": 16, "offset": 6},
  "encoding": {
    "x": {"field": "t", "type": "quantitative", "scale": {"domain": [165, 180], "nice": false, "zero": false}, "axis": {"values": [165, 170, 175, 180], "title": "retention time (minutes)", "labelFontSize": 9, "titleFontSize": 11, "titlePadding": 3}},
    "y": {"field": "v", "type": "quantitative", "scale": {"domain": [0, 6], "nice": false}, "axis": {"values": [0, 1, 2, 3, 4, 5, 6], "title": "ion intensity (x10⁶)", "labelFontSize": 9, "titleFontSize": 11.5, "titlePadding": 6}}
  },
  "layer": [
    {"transform": [{"filter": "isValid(datum.lo)"}], "mark": {"type": "area", "color": "#1b75bb", "opacity": 0.95}, "encoding": {"y2": {"field": "lo"}}},
    {"mark": {"type": "line", "color": "#1b75bb", "strokeWidth": 1, "opacity": 0.85}}
  ]
},
{
  "width": 160, "height": 160,
  "data": {"name": "p5"},
  "title": {"text": "PHI(1-22)", "color": "#6a2c91", "fontSize": 16, "offset": 6},
  "encoding": {
    "x": {"field": "t", "type": "quantitative", "scale": {"domain": [120, 135], "nice": false, "zero": false}, "axis": {"values": [120, 125, 130, 135], "title": "retention time (minutes)", "labelFontSize": 9, "titleFontSize": 11, "titlePadding": 3}},
    "y": {"field": "v", "type": "quantitative", "scale": {"domain": [0, 5], "nice": false}, "axis": {"values": [0, 1, 2, 3, 4, 5], "title": "ion intensity (x10⁶)", "labelFontSize": 9, "titleFontSize": 11.5, "titlePadding": 6}}
  },
  "layer": [
    {"transform": [{"filter": "isValid(datum.lo)"}], "mark": {"type": "area", "color": "#6a2c91", "opacity": 0.95}, "encoding": {"y2": {"field": "lo"}}},
    {"mark": {"type": "line", "color": "#6a2c91", "strokeWidth": 1, "opacity": 0.85}}
  ]
},
{
  "width": 201, "height": 160,
  "data": {"name": "p6"},
  "title": {"text": "PHI(3-27)", "color": "#e8262b", "fontSize": 16, "offset": 6, "dx": -20.5},
  "encoding": {
    "x": {"field": "t", "type": "quantitative", "scale": {"domain": [190, 210], "range": [0, 160], "nice": false, "zero": false}, "axis": {"values": [190, 195, 200, 205, 210], "title": "retention time (minutes)", "labelFontSize": 9, "titleFontSize": 11, "titlePadding": 3}},
    "y": {"field": "v", "type": "quantitative", "scale": {"domain": [0, 8], "nice": false}, "axis": {"values": [0, 1, 2, 3, 4, 5, 6, 7, 8], "title": "ion intensity (x10⁵)", "labelFontSize": 9, "titleFontSize": 11.5, "titlePadding": 6}}
  },
  "layer": [
    {"transform": [{"filter": "isValid(datum.lo)"}], "mark": {"type": "area", "color": "#e8262b", "opacity": 0.95}, "encoding": {"y2": {"field": "lo"}}},
    {"mark": {"type": "line", "color": "#e8262b", "strokeWidth": 1, "opacity": 0.85}}
  ]
},
{
  "width": 278, "height": 149,
  "data": {"values": [{"g": "WT", "v": 1.58, "hi": 1.8}, {"g": "+LAF-237", "v": 0.012}, {"g": "DPP4⁻/⁻", "v": 0.018}]},
  "encoding": {
    "x": {"field": "g", "type": "nominal", "sort": null, "scale": {"paddingInner": 0, "paddingOuter": 0}, "axis": {"title": null, "ticks": false, "tickSize": 0, "labelPadding": 9, "labelFontSize": 17, "labelColor": "#111111", "labelAngle": 0, "domainColor": "#8a8a8a", "labelLineHeight": 24, "labelExpr": "datum.value == '+LAF-237' ? ['+LAF-237', 'DPP4 inh.'] : datum.label"}}
  },
  "layer": [
    {"mark": {"type": "bar", "color": "#111111", "width": {"band": 0.42}},
     "encoding": {"y": {"field": "v", "type": "quantitative", "title": ["PHI (3-27)", "relative ion abundance"], "scale": {"domain": [0, 2], "range": [149, -10], "nice": false}, "axis": {"values": [0, 1, 2], "format": "d", "titleFontSize": 13.5, "titleLineHeight": 14, "titlePadding": 7, "titleColor": "#111111", "labelFontSize": 13, "labelColor": "#111111", "domainColor": "#111111", "tickColor": "#111111", "tickSize": 4, "labelPadding": 3}}}},
    {"transform": [{"filter": "isValid(datum.hi)"}], "mark": {"type": "rule", "color": "#111111", "strokeWidth": 1},
     "encoding": {"y": {"field": "v", "type": "quantitative", "title": ["PHI (3-27)", "relative ion abundance"]}, "y2": {"field": "hi"}}},
    {"transform": [{"filter": "isValid(datum.hi)"}], "mark": {"type": "tick", "color": "#111111", "thickness": 1, "size": 6, "orient": "horizontal"},
     "encoding": {"y": {"field": "hi", "type": "quantitative", "title": ["PHI (3-27)", "relative ion abundance"]}}}
  ]
}
]
}
